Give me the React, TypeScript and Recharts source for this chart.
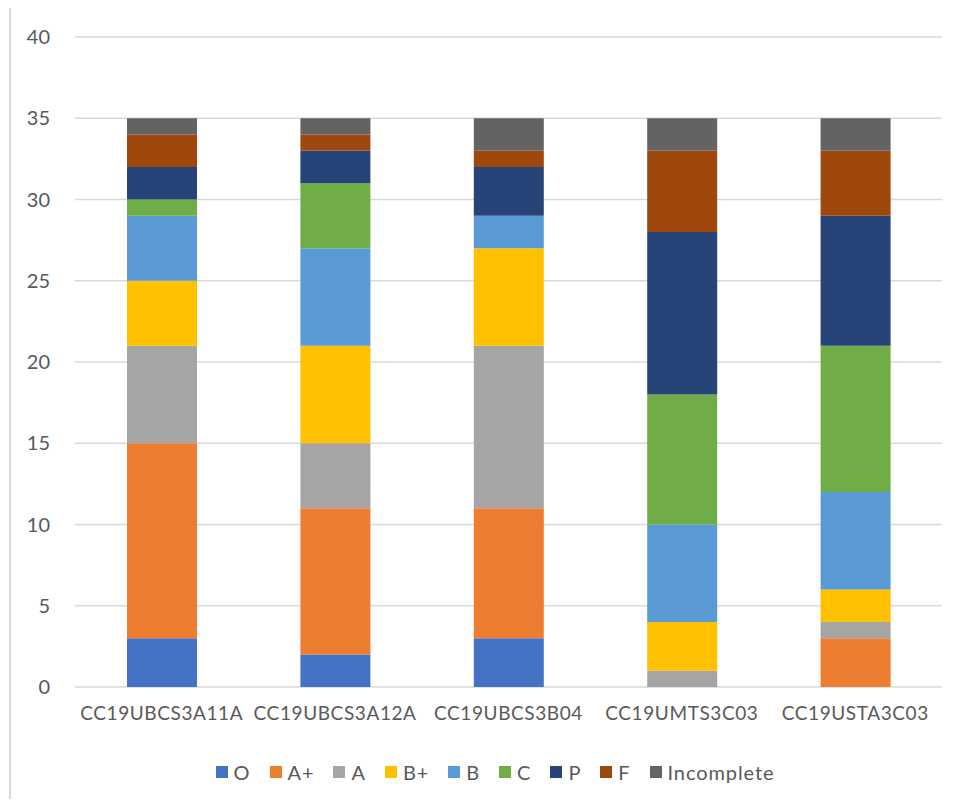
import React from 'react';
import { BarChart, Bar, XAxis, YAxis, CartesianGrid, Legend } from 'recharts';

const courses = ['CC19UBCS3A11A', 'CC19UBCS3A12A', 'CC19UBCS3B04', 'CC19UMTS3C03', 'CC19USTA3C03'];
const grades = ['O', 'A+', 'A', 'B+', 'B', 'C', 'P', 'F', 'Incomplete'];
const gradeColors = ['#4472C4', '#ED7D31', '#A5A5A5', '#FFC000', '#5B9BD5', '#70AD47', '#264478', '#9E480E', '#636363'];

// counts per grade, one entry per course
const O = [3, 2, 3, 0, 0];
const APlus = [12, 9, 8, 0, 3];
const A = [6, 4, 10, 1, 1];
const BPlus = [4, 6, 6, 3, 2];
const B = [4, 6, 2, 6, 6];
const C = [1, 4, 0, 8, 9];
const P = [2, 2, 3, 10, 8];
const F = [2, 1, 1, 5, 4];
const Incomplete = [1, 1, 2, 2, 2];

const yTicks = [0, 5, 10, 15, 20, 25, 30, 35, 40];

const series = [O, APlus, A, BPlus, B, C, P, F, Incomplete];
const data = courses.map((c, i) => {
  const row: any = { course: c };
  grades.forEach((g, k) => { row[g] = series[k][i]; });
  return row;
});

const font = 'Lato, "Liberation Sans", sans-serif';
const textColor = '#595959';

const LegendRow = () => (
  <div style={{ display: 'flex', justifyContent: 'center', alignItems: 'center', fontFamily: font, fontSize: 20, letterSpacing: 0.9, color: textColor }}>
    {grades.map((g, i) => (
      <div key={g} style={{ display: 'flex', alignItems: 'center', marginRight: i < grades.length - 1 ? 19 : 0 }}>
        <span style={{ width: 12, height: 12, background: gradeColors[i], display: 'inline-block', marginRight: 6 }} />
        <span>{g}</span>
      </div>
    ))}
  </div>
);

export default function App() {
  return (
    <div style={{ position: 'relative', width: 958, height: 807, margin: -8, background: '#fff', overflow: 'hidden' }}>
      <div style={{ position: 'absolute', left: 9, top: 6, right: 0, bottom: 0, borderLeft: '2px solid #d9d9d9', borderTop: '2px solid #d9d9d9' }} />
      <div style={{ position: 'absolute', left: 0, top: 0 }}>
        <BarChart width={958} height={807} data={data} margin={{ top: 37, right: 16, bottom: 90, left: 0 }} barSize={70}>
          <CartesianGrid vertical={false} stroke="#d9d9d9" strokeWidth={1.5} />
          <XAxis dataKey="course" axisLine={false} tickLine={false} tickMargin={14} height={30}
            tick={{ fill: textColor, fontSize: 19, fontFamily: font, letterSpacing: 0.6 }} interval={0} />
          <YAxis domain={[0, 40]} ticks={yTicks} axisLine={false} tickLine={false} width={75} tickMargin={19}
            tick={{ fill: textColor, fontSize: 20, fontFamily: font }} />
          <Legend verticalAlign="middle" align="center" layout="horizontal" content={<LegendRow />}
            wrapperStyle={{ top: 760, left: 16, width: 958 }} />
          {grades.map((g, i) => (
            <Bar key={g} dataKey={g} stackId="s" fill={gradeColors[i]} isAnimationActive={false} />
          ))}
        </BarChart>
      </div>
    </div>
  );
}
